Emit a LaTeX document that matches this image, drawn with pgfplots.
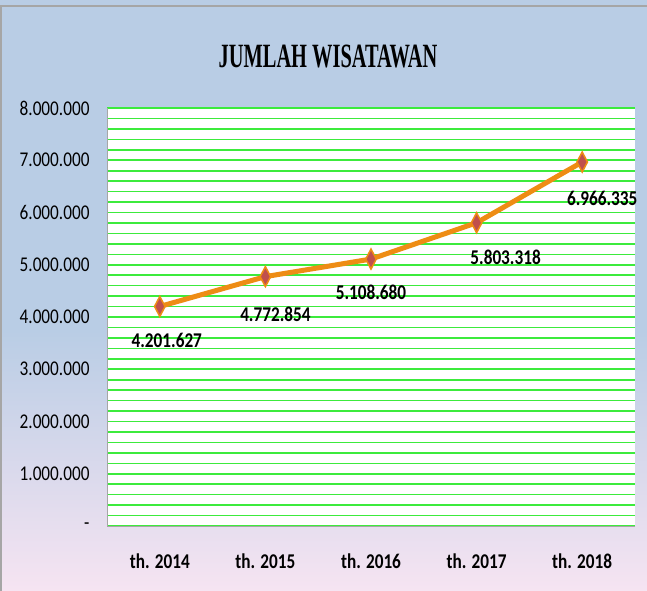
\documentclass[border=0pt]{standalone}
\usepackage{fontspec}
\setmainfont{Carlito}[FakeStretch=0.82]
\newfontfamily\titlefont{Liberation Serif}[FakeStretch=0.6]
\usepackage{pgfplots}
\usepackage{pgfplotstable}
\pgfplotsset{compat=1.18}
\definecolor{bgblue}{RGB}{185,205,229}
\definecolor{bgpink}{RGB}{246,228,242}
\definecolor{gridgreen}{RGB}{60,235,60}
\definecolor{lineorange}{RGB}{238,140,20}
\definecolor{markred}{RGB}{192,80,77}
\pgfplotstableread{
x y label dx dy
0 4201627 4.201.627 7 -34
1 4772854 4.772.854 10 -38
2 5108680 5.108.680 0 -33
3 5803318 5.803.318 29 -35
4 6966335 6.966.335 20 -36
}\datatable
\begin{document}
\begin{tikzpicture}
\path[use as bounding box] (0,0) rectangle (647bp,591bp);
\fill[bgblue] (0,260bp) rectangle (647bp,591bp);
\shade[top color=bgblue, bottom color=bgpink] (0,0) rectangle (647bp,260.5bp);
\draw[gray!70, line width=2bp] (1bp,0) -- (1bp,585bp) -- (647bp,585bp);
\node[font=\titlefont\bfseries\fontsize{34bp}{38bp}\selectfont] at (328bp,534bp) {JUMLAH WISATAWAN};
\begin{axis}[
  at={(107bp,65bp)}, anchor=south west,
  scale only axis, width=528bp, height=418bp,
  xmin=-0.5, xmax=4.5, ymin=0, ymax=8000000,
  axis background/.style={fill=white},
  xtick={0,1,2,3,4},
  xticklabels={th. 2014, th. 2015, th. 2016, th. 2017, th. 2018},
  scaled y ticks=false,
  ytick={0,200000,...,8000000},
  yticklabels={-,,,,,1.000.000,,,,,2.000.000,,,,,3.000.000,,,,,4.000.000,,,,,5.000.000,,,,,6.000.000,,,,,7.000.000,,,,,8.000.000},
  ymajorgrids,
  major grid style={gridgreen, line width=1.6bp},
  major tick length=0pt,
  axis x line*=bottom, axis y line*=left,
  axis line style={gray!70, line width=1bp},
  /pgf/number format/assume math mode=true,
  yticklabel style={font=\fontsize{21bp}{24bp}\selectfont, xshift=-14bp},
  xticklabel style={font=\bfseries\fontsize{21bp}{24bp}\selectfont, yshift=-24bp},
  clip=false,
]
\addplot[lineorange, line width=5bp,
  mark=diamond*, mark size=10bp,
  mark options={xscale=0.7, fill=markred, draw=lineorange, line width=1.5bp},
  point meta=explicit symbolic,
  visualization depends on={\thisrow{dx}\as\dx},
  visualization depends on={\thisrow{dy}\as\dy},
  nodes near coords,
  nodes near coords style={anchor=center, xshift=\dx bp, yshift=\dy bp,
    font=\bfseries\fontsize{21bp}{24bp}\selectfont, text=black},
] table[x=x, y=y, meta=label] {\datatable};
\end{axis}
\end{tikzpicture}
\end{document}
